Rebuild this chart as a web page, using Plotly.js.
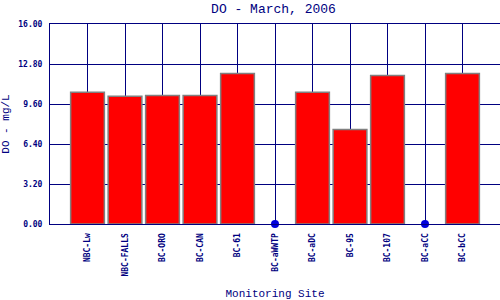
<!DOCTYPE html>
<html><head><meta charset="utf-8">
<script src="https://cdn.plot.ly/plotly-3.0.1.min.js"></script>
<style>html,body{margin:0;padding:0;background:#fff}#chart{width:500px;height:300px}</style>
</head><body><div id="chart"></div>
<script>
const sites = ["NBC-Lw","NBC-FALLS","BC-ORO","BC-CAN","BC-61","BC-aWWTP","BC-aDC","BC-95","BC-107","BC-aCC","BC-bCC"];
const doValues = [10.54, 10.21, 10.29, 10.29, 12.05, 0, 10.54, 7.57, 11.89, 0, 12.05];
const yTicks = [0, 3.2, 6.4, 9.6, 12.8, 16];

const navy = "#000080";
const font = "DejaVu Sans Mono, Liberation Mono, monospace";
const thinFont = "Liberation Mono, DejaVu Sans Mono, monospace";

const barY = doValues.map(v => v > 0 ? v : null);
const zeroX = sites.filter((s, i) => doValues[i] === 0);
const zeroY = doValues.filter(v => v === 0);

const traces = [
  {type: "bar", x: sites, y: barY, width: 0.9,
   marker: {color: "#ff0000", line: {color: "#808080", width: 1.5}}, hoverinfo: "none"},
  {type: "scatter", mode: "markers", x: zeroX, y: zeroY, cliponaxis: false,
   marker: {color: "#0000dd", size: 8}, hoverinfo: "none"}
];

const layout = {
  width: 500, height: 300,
  margin: {l: 50, r: 0, t: 24, b: 76},
  paper_bgcolor: "#ffffff", plot_bgcolor: "#ffffff",
  showlegend: false,
  title: {text: "DO - March, 2006", font: {family: thinFont, size: 13, color: navy}, x: 0.547, xanchor: "center", y: 0.972, yanchor: "middle"},
  xaxis: {
    type: "category", range: [-1, 11],
    showgrid: true, gridcolor: navy, gridwidth: 1,
    showline: true, linecolor: navy, linewidth: 1, mirror: true,
    ticks: "", tickangle: -90, ticklabelstandoff: 5,
    tickfont: {family: font, size: 8, color: navy, weight: "bold"},
    title: {text: "Monitoring Site", font: {family: thinFont, size: 11, color: navy}, standoff: 14}
  },
  yaxis: {
    range: [0, 16], tickvals: yTicks, ticktext: yTicks.map(v => v.toFixed(2)),
    showgrid: true, gridcolor: navy, gridwidth: 1, zeroline: false,
    showline: true, linecolor: navy, linewidth: 1, mirror: true,
    ticks: "", ticklabelstandoff: 5,
    tickfont: {family: font, size: 8, color: navy, weight: "bold"},
    title: {text: "DO - mg/L", font: {family: thinFont, size: 11, color: navy}, standoff: 11}
  }
};

Plotly.newPlot("chart", traces, layout, {staticPlot: true, displayModeBar: false});
</script></body></html>
